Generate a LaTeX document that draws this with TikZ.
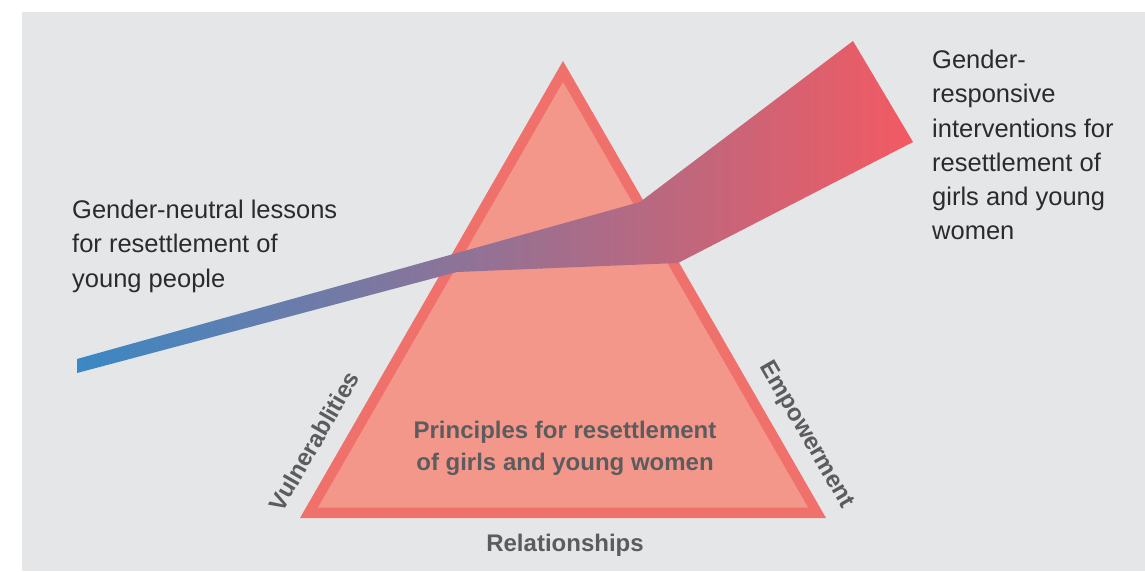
\documentclass[tikz,border=0pt]{standalone}
\usepackage{fontspec}
\setmainfont{Liberation Sans}
\definecolor{bggray}{HTML}{E5E6E8}
\definecolor{triedge}{HTML}{F0706C}
\definecolor{trifill}{HTML}{F4978B}
\definecolor{beamblue}{HTML}{3A88C4}
\definecolor{beamred}{HTML}{F25A62}
\definecolor{labelgray}{HTML}{5C5C5E}
\definecolor{textdark}{HTML}{2B2B2D}
\begin{document}
\begin{tikzpicture}[x=1pt,y=-1pt,
        bodytext/.style={text=textdark,font=\fontsize{25.5}{34.2}\selectfont,align=left,anchor=north west,inner sep=0pt},
        sidelabel/.style={text=labelgray,font=\fontsize{24}{32.3}\selectfont\bfseries,inner sep=0pt}]
        \useasboundingbox (0,0) rectangle (1145,572);
        %background
        \fill[bggray] (22,12) rectangle (1145,571);
        
        %prism
        \fill[triedge] (563,61) -- (826,518) -- (300,518) -- cycle;
        \fill[trifill] (563,82) -- (808,507.5) -- (318,507.5) -- cycle;
        
        %beam
        \shade[left color=beamblue,right color=beamred] (77,359) -- (640,202) -- (853,41) -- (913,142) -- (678,263) -- (457,272) -- (77,373) -- cycle;
        
        %texts
        \node[bodytext] (neutral) at (72,200) {Gender-neutral lessons\\for resettlement of\\young people};
        \node[bodytext] (responsive) at (932,50) {Gender-\\responsive\\interventions for\\resettlement of\\girls and young\\women};
        \node[sidelabel,align=center,anchor=north] (principles) at (565,420.5) {Principles for resettlement\\of girls and young women};
        \node[sidelabel,anchor=base] (relations) at (565,551.7) {Relationships};
        \node[sidelabel,rotate=60] (vulner) at (314,441) {Vulnerablities};
        \node[sidelabel,rotate=-60] (empower) at (806,435) {Empowerment};
    \end{tikzpicture}
\end{document}
